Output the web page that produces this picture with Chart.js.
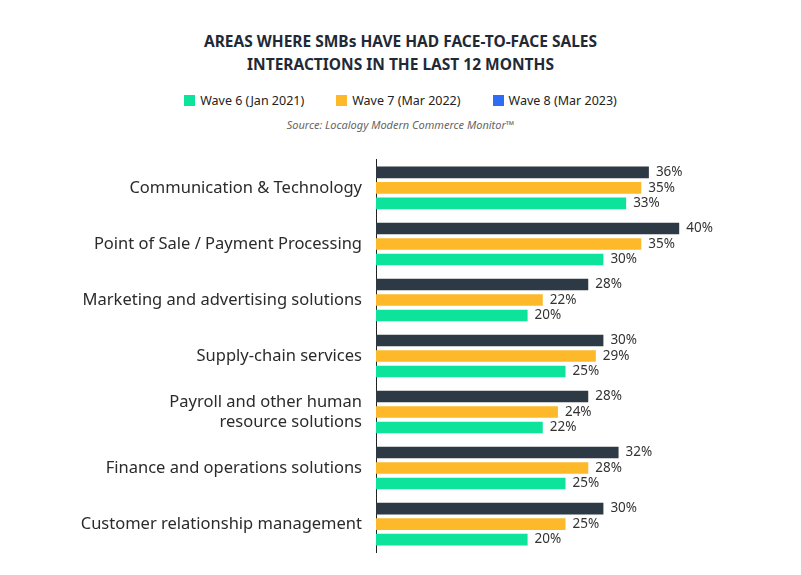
<!DOCTYPE html>
<html><head><meta charset="utf-8">
<script src="https://cdn.jsdelivr.net/npm/chart.js@4"></script>
<style>
body{margin:0;width:801px;height:575px;background:#fff;font-family:"Noto Sans",sans-serif;position:relative;overflow:hidden}
.title{position:absolute;top:30px;left:0;width:801px;text-align:center;font-weight:bold;font-size:15.5px;line-height:23px;color:#1f2a36}
.legend{position:absolute;top:92px;left:0;width:801px;text-align:center;font-size:12.5px;color:#222}
.legend span{display:inline-block;margin:0 16px 0 16px}
.legend i{display:inline-block;width:11px;height:11px;margin-right:5px;vertical-align:-1px}
.src{position:absolute;top:117px;left:0;width:801px;text-align:center;font-size:11px;font-style:italic;color:#666}
#wrap{position:absolute;left:0;top:136px;width:801px;height:440px}
</style></head><body>
<div class="title">AREAS WHERE SMBs HAVE HAD FACE-TO-FACE SALES<br>INTERACTIONS IN THE LAST 12 MONTHS</div>
<div class="legend"><span><i style="background:#0de39a"></i>Wave 6 (Jan 2021)</span><span><i style="background:#fdb92a"></i>Wave 7 (Mar 2022)</span><span><i style="background:#2f6cf6"></i>Wave 8 (Mar 2023)</span></div>
<div class="src">Source: Localogy Modern Commerce Monitor™</div>
<div id="wrap"><canvas id="c"></canvas></div>
<script>
// categories and values
const categories = [
  'Communication & Technology',
  'Point of Sale / Payment Processing',
  'Marketing and advertising solutions',
  'Supply-chain services',
  ['Payroll and other human', 'resource solutions'],
  'Finance and operations solutions',
  'Customer relationship management'
];
const wave8 = [36, 40, 28, 30, 28, 32, 30];
const wave7 = [35, 35, 22, 29, 24, 28, 25];
const wave6 = [33, 30, 20, 25, 22, 25, 20];

const valueLabels = {
  id: 'valueLabels',
  afterDatasetsDraw(chart) {
    const ctx = chart.ctx;
    ctx.save();
    ctx.font = '13.5px "Noto Sans"';
    ctx.fillStyle = '#333';
    ctx.textBaseline = 'middle';
    chart.data.datasets.forEach((ds, i) => {
      chart.getDatasetMeta(i).data.forEach((bar, j) => {
        ctx.fillText(ds.data[j] + '%', bar.x + 7, bar.y);
      });
    });
    ctx.restore();
  }
};

const common = { categoryPercentage: 0.83, barPercentage: 0.75 };

new Chart(document.getElementById('c'), {
  type: 'bar',
  data: {
    labels: categories,
    datasets: [
      { label: 'Wave 8 (Mar 2023)', data: wave8, backgroundColor: '#2d3a45', ...common },
      { label: 'Wave 7 (Mar 2022)', data: wave7, backgroundColor: '#fdb92a', ...common },
      { label: 'Wave 6 (Jan 2021)', data: wave6, backgroundColor: '#0de39a', ...common }
    ]
  },
  options: {
    indexAxis: 'y',
    responsive: true,
    maintainAspectRatio: false,
    animation: false,
    layout: { padding: { top: 0, bottom: 0, right: 46, left: 0 } },
    plugins: { legend: { display: false }, tooltip: { enabled: false } },
    scales: {
      x: { min: 0, max: 50, display: false },
      y: {
        afterFit(axis) { axis.width = 376; },
        grid: { display: false, drawTicks: false },
        border: { display: true, color: '#222', width: 1 },
        ticks: { color: '#2b2b2b', font: { family: 'Noto Sans', size: 16.5 }, padding: 14 }
      }
    }
  },
  plugins: [valueLabels]
});
</script>
</body></html>
